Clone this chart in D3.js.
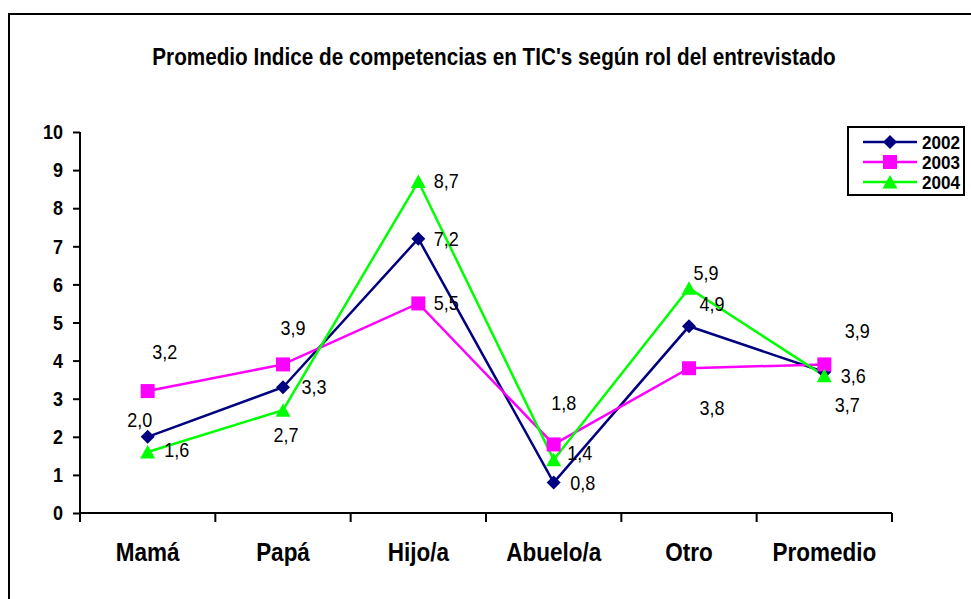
<!DOCTYPE html>
<meta charset='utf-8'>
<html>
  <head>
    <script src="https://d3js.org/d3.v7.min.js"></script>
    <style>
      body { margin: 0; background: #fff; }
      text { font-family: "Liberation Sans", Arial, sans-serif; fill: #000; }
    </style>
  </head>
  <body>
    <div id="chart"></div>
    <script>
        // data
        var categories = ["Mamá", "Papá", "Hijo/a", "Abuelo/a", "Otro", "Promedio"]
        var years = ["2002", "2003", "2004"]
        var v2002 = [2.0, 3.3, 7.2, 0.8, 4.9, 3.7]
        var v2003 = [3.2, 3.9, 5.5, 1.8, 3.8, 3.9]
        var v2004 = [1.6, 2.7, 8.7, 1.4, 5.9, 3.6]
        var yTicks = [0, 1, 2, 3, 4, 5, 6, 7, 8, 9, 10]

        var seriesValues = [v2002, v2003, v2004]
        var colors = ["#000080", "#ff00ff", "#00ff00"]
        var shapes = ["diamond", "square", "triangle"]

        // where each value label sits relative to its point (dx, dy)
        var labelOffsets = [
            [[-8, -17], [31, 0], [28, 0], [29, 0], [23, -23], [23, 33]],
            [[17, -39], [10, -37], [28, -1], [10, -42], [23, 40], [33, -34]],
            [[29, -2], [3, 25], [28, -1], [26, -7], [17, -15], [29, 0]]
        ]

        var W = 971, H = 599
        var NARROW = 0.9  // no Arial Narrow here, so squeeze Liberation Sans
        var svg = d3.select('#chart').append('svg')
            .attr('width', W)
            .attr('height', H)

        // text placed at (x,y) and squeezed horizontally
        function ntext(parent, x, y, str, size, bold, anchor) {
            return parent.append('text')
                .attr('transform', 'translate(' + x + ',' + y + ') scale(' + NARROW + ',1)')
                .attr('text-anchor', anchor || 'start')
                .style('font-size', size + 'px')
                .style('font-weight', bold ? 'bold' : 'normal')
                .text(str)
        }

        // outer frame (runs off the right and bottom edges)
        svg.append('rect')
            .attr('x', 9).attr('y', 14)
            .attr('width', 1100).attr('height', 1100)
            .attr('fill', 'none')
            .attr('stroke', '#000')
            .attr('stroke-width', 2)

        // scales
        var xScale = d3.scaleBand().domain(categories).range([80, 892])
        var yScale = d3.scaleLinear().domain([0, 10]).range([513, 132])

        // title
        ntext(svg, 494, 65, "Promedio Indice de competencias en TIC's según rol del entrevistado", 23, true, 'middle')

        // y axis
        var yAxis = d3.axisLeft(yScale).tickValues(yTicks).tickSize(7).tickFormat('')
        var gy = svg.append('g')
            .attr('transform', 'translate(80,0)')
            .call(yAxis)
        gy.select('.domain').attr('stroke-width', 2).attr('d', 'M0,' + yScale(10) + 'V' + (yScale(0) + 9))
        gy.selectAll('.tick line').attr('stroke-width', 2)
        yTicks.forEach(function (t) {
            ntext(gy, -17, yScale(t), t, 20, true, 'end').attr('dy', '0.36em')
        })

        // x axis: ticks on category boundaries
        var xAxis = svg.append('g')
        xAxis.append('line')
            .attr('x1', 80).attr('x2', 892)
            .attr('y1', yScale(0)).attr('y2', yScale(0))
            .attr('stroke', '#000').attr('stroke-width', 2)
        var bounds = categories.map(function (c) { return xScale(c) }).concat([xScale.range()[1]])
        xAxis.selectAll('.xtick')
            .data(bounds)
            .enter()
            .append('line')
            .attr('class', 'xtick')
            .attr('x1', function (d) { return d }).attr('x2', function (d) { return d })
            .attr('y1', yScale(0)).attr('y2', yScale(0) + 9)
            .attr('stroke', '#000').attr('stroke-width', 2)
        categories.forEach(function (c) {
            ntext(xAxis, xScale(c) + xScale.bandwidth() / 2, 561, c, 25, true, 'middle')
        })

        function cx(i) { return xScale(categories[i]) + xScale.bandwidth() / 2 }

        function marker(sel, shape, color) {
            if (shape == 'diamond') {
                sel.append('path')
                    .attr('d', 'M0,-7L7,0L0,7L-7,0Z')
                    .attr('fill', color)
            } else if (shape == 'square') {
                sel.append('rect')
                    .attr('x', -7).attr('y', -7)
                    .attr('width', 14).attr('height', 14)
                    .attr('fill', color)
            } else {
                sel.append('path')
                    .attr('d', 'M0,-7L7.5,6.5L-7.5,6.5Z')
                    .attr('fill', color)
            }
        }

        var line = d3.line()
            .x(function (d, i) { return cx(i) })
            .y(function (d) { return yScale(d) })

        // lines, then markers, then labels
        seriesValues.forEach(function (vals, s) {
            svg.append('path')
                .attr('d', line(vals))
                .attr('fill', 'none')
                .attr('stroke', colors[s])
                .attr('stroke-width', 2.5)
        })
        seriesValues.forEach(function (vals, s) {
            vals.forEach(function (v, i) {
                var g = svg.append('g').attr('transform', 'translate(' + cx(i) + ',' + yScale(v) + ')')
                marker(g, shapes[s], colors[s])
            })
        })
        var fmt = function (v) { return d3.format('.1f')(v).replace('.', ',') }
        seriesValues.forEach(function (vals, s) {
            vals.forEach(function (v, i) {
                ntext(svg, cx(i) + labelOffsets[s][i][0], yScale(v) + labelOffsets[s][i][1], fmt(v), 20, false, 'middle')
                    .attr('dy', '0.36em')
            })
        })

        // legend
        var legend = svg.append('g')
        legend.append('rect')
            .attr('x', 848).attr('y', 127)
            .attr('width', 116).attr('height', 68)
            .attr('fill', '#fff')
            .attr('stroke', '#000').attr('stroke-width', 2)
        years.forEach(function (y, s) {
            var ly = 142 + s * 20
            legend.append('line')
                .attr('x1', 863).attr('x2', 917)
                .attr('y1', ly).attr('y2', ly)
                .attr('stroke', colors[s]).attr('stroke-width', 2.5)
            var g = legend.append('g').attr('transform', 'translate(890,' + ly + ')')
            marker(g, shapes[s], colors[s])
            ntext(legend, 922, ly, y, 19, true, 'start').attr('dy', '0.36em')
        })
    </script>
  </body>
</html>
